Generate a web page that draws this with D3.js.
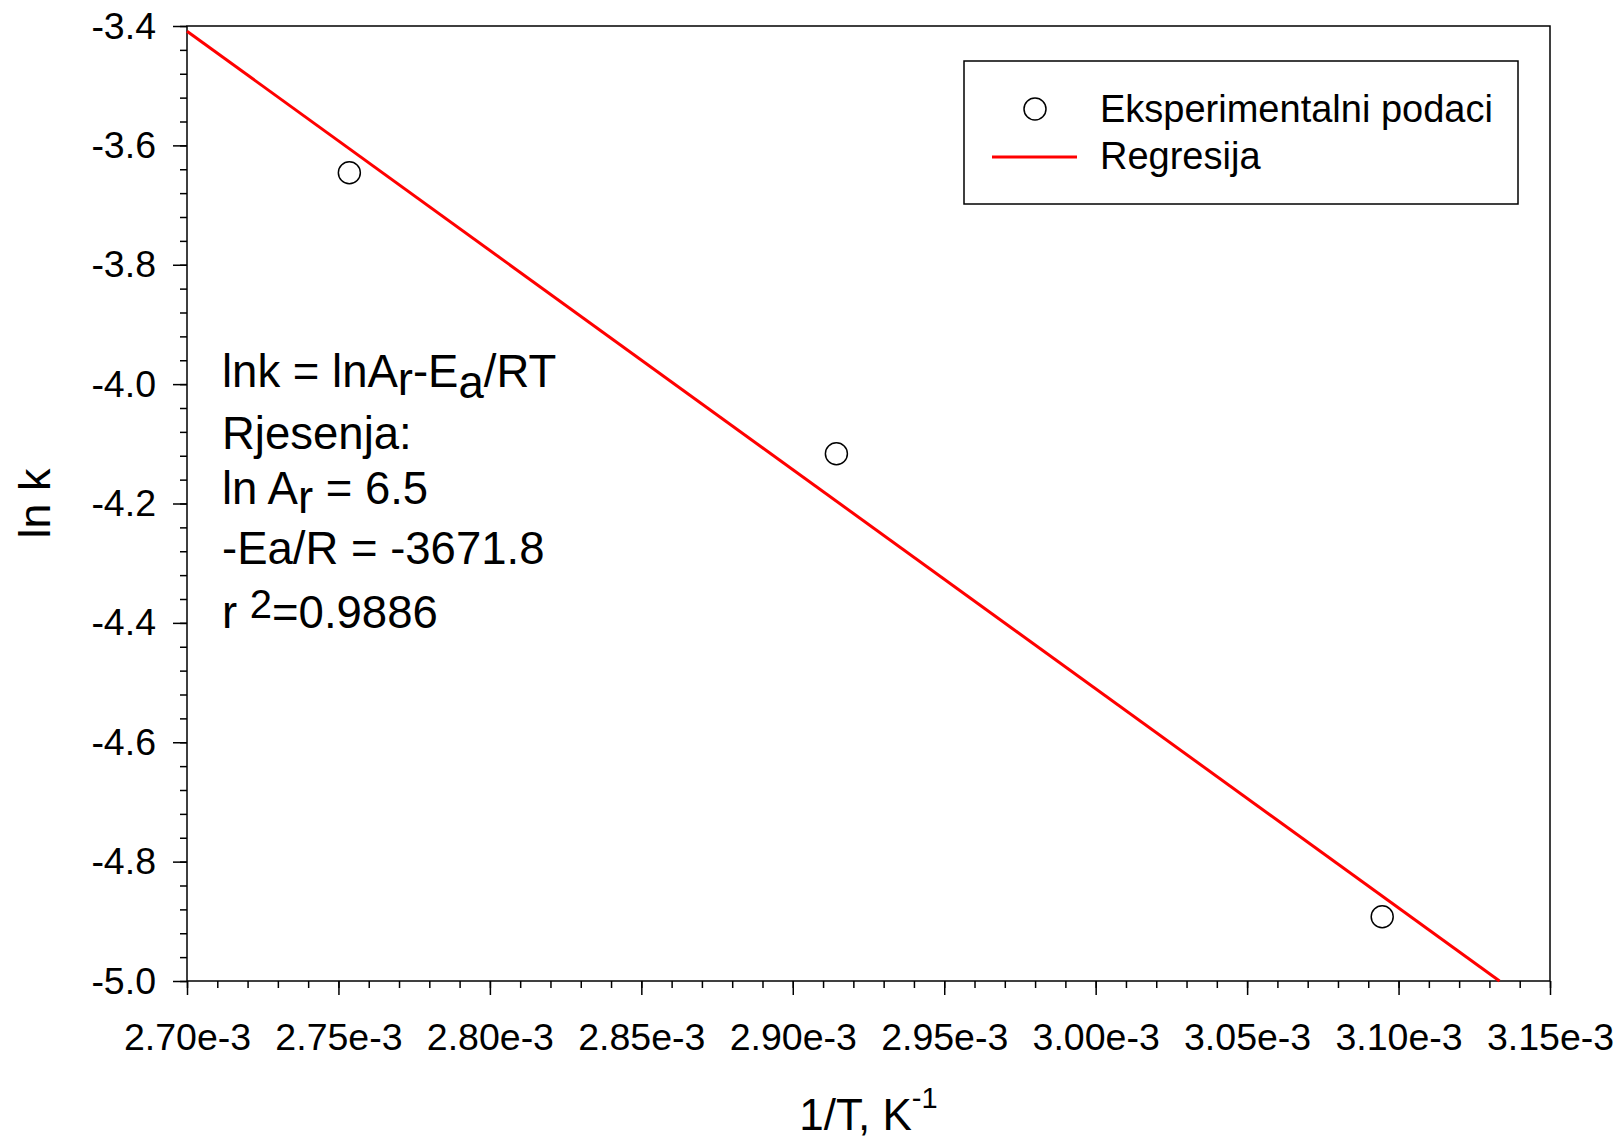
<!DOCTYPE html>
<html>
<head>
<meta charset="utf-8">
<script src="https://cdn.jsdelivr.net/npm/d3@7"></script>
<style>
  body { margin: 0; background: #fff; }
  text { font-family: "Liberation Sans", Arial, sans-serif; fill: #000; }
</style>
</head>
<body>
<div id="chart"></div>
<script>
// data
const invT = [2.7536e-3, 2.9144e-3, 3.0946e-3];   // 1/T, K^-1
const lnK = [-3.6458, -4.1167, -4.8923];
// regression line (ln k = a + b/T), as drawn
const regIntercept = [6.505];
const regSlope = [-3671.8];
// axis ticks
const xMajor = [2.70e-3, 2.75e-3, 2.80e-3, 2.85e-3, 2.90e-3, 2.95e-3, 3.00e-3, 3.05e-3, 3.10e-3, 3.15e-3];
const yMajor = [-3.4, -3.6, -3.8, -4.0, -4.2, -4.4, -4.6, -4.8, -5.0];
const legendLabels = ["Eksperimentalni podaci", "Regresija"];

const W = 1621, H = 1143;
const margin = {top: 26, right: 71, bottom: 162, left: 187};
const width = W - margin.left - margin.right;
const height = H - margin.top - margin.bottom;

const svg = d3.select("#chart").append("svg")
    .attr("width", W)
    .attr("height", H);

const g = svg.append("g")
    .attr("transform", `translate(${margin.left},${margin.top})`);

const x = d3.scaleLinear().domain([2.70e-3, 3.15e-3]).range([0, width]);
const y = d3.scaleLinear().domain([-5.0, -3.4]).range([height, 0]);

// minor ticks
const xMinor = d3.range(46).map(i => 2.70e-3 + i * 0.01e-3);
const yMinor = d3.range(41).map(i => -5.0 + i * 0.04);

g.append("g")
    .attr("transform", `translate(0,${height})`)
    .call(d3.axisBottom(x).tickValues(xMinor).tickSize(7).tickFormat(""))
    .call(a => a.select(".domain").remove())
    .selectAll("line").attr("stroke-width", 1.5);

g.append("g")
    .call(d3.axisLeft(y).tickValues(yMinor).tickSize(7).tickFormat(""))
    .call(a => a.select(".domain").remove())
    .selectAll("line").attr("stroke-width", 1.5);

const xAxis = g.append("g")
    .attr("transform", `translate(0,${height})`)
    .call(d3.axisBottom(x).tickValues(xMajor).tickSize(14).tickPadding(28)
        .tickFormat(d => (d * 1000).toFixed(2) + "e-3"));
xAxis.select(".domain").remove();
xAxis.selectAll("line").attr("stroke-width", 1.5);
xAxis.selectAll("text").attr("font-size", 37.5).attr("font-family", null);

const yAxis = g.append("g")
    .call(d3.axisLeft(y).tickValues(yMajor).tickSize(14).tickPadding(17)
        .tickFormat(d => d.toFixed(1)));
yAxis.select(".domain").remove();
yAxis.selectAll("line").attr("stroke-width", 1.5);
yAxis.selectAll("text").attr("font-size", 37.5).attr("font-family", null);

// frame
g.append("rect")
    .attr("width", width)
    .attr("height", height)
    .attr("fill", "none")
    .attr("stroke", "#000")
    .attr("stroke-width", 1.5);

// regression line, clipped at the axis limits
const regX = [x.domain()[0], (y.domain()[0] - regIntercept[0]) / regSlope[0]];
g.append("path")
    .datum(regX)
    .attr("fill", "none")
    .attr("stroke", "#ff0000")
    .attr("stroke-width", 3)
    .attr("d", d3.line().x(d => x(d)).y(d => y(regIntercept[0] + regSlope[0] * d)));

// data points
g.selectAll("circle.pt")
    .data(invT.map((v, i) => [v, lnK[i]]))
    .enter().append("circle")
    .attr("class", "pt")
    .attr("cx", d => x(d[0]))
    .attr("cy", d => y(d[1]))
    .attr("r", 11)
    .attr("fill", "#fff")
    .attr("stroke", "#000")
    .attr("stroke-width", 1.5);

// legend
const legend = svg.append("g").attr("transform", "translate(964,61)");
legend.append("rect")
    .attr("width", 554).attr("height", 143)
    .attr("fill", "#fff").attr("stroke", "#000").attr("stroke-width", 1.5);
legend.append("circle")
    .attr("cx", 71).attr("cy", 48).attr("r", 11)
    .attr("fill", "#fff").attr("stroke", "#000").attr("stroke-width", 1.5);
legend.append("line")
    .attr("x1", 28).attr("x2", 113).attr("y1", 96).attr("y2", 96)
    .attr("stroke", "#ff0000").attr("stroke-width", 3);
legend.selectAll("text.lab")
    .data(legendLabels)
    .enter().append("text")
    .attr("class", "lab")
    .attr("x", 136)
    .attr("y", (d, i) => 61 + i * 47)
    .attr("font-size", 38)
    .text(d => d);

// annotation
const fs = 45.5;
const l1 = svg.append("text").attr("x", 222).attr("y", 387).attr("font-size", fs);
l1.append("tspan").text("lnk = lnA");
l1.append("tspan").attr("dy", 8).text("r");
l1.append("tspan").attr("dy", -8).text("-E");
l1.append("tspan").attr("dy", 11).text("a");
l1.append("tspan").attr("dy", -11).text("/RT");

svg.append("text").attr("x", 222).attr("y", 449).attr("font-size", fs).text("Rjesenja:");

const l3 = svg.append("text").attr("x", 222).attr("y", 504).attr("font-size", fs);
l3.append("tspan").text("ln A");
l3.append("tspan").attr("dy", 9).text("r");
l3.append("tspan").attr("dy", -9).text(" = 6.5");

svg.append("text").attr("x", 222).attr("y", 564).attr("font-size", fs).text("-Ea/R = -3671.8");

const l5 = svg.append("text").attr("x", 222).attr("y", 628).attr("font-size", fs);
l5.append("tspan").text("r ");
l5.append("tspan").attr("dy", -10).attr("font-size", 40).text("2");
l5.append("tspan").attr("dy", 10).text("=0.9886");

// axis titles
const xt = svg.append("text")
    .attr("x", margin.left + width / 2)
    .attr("y", 1130)
    .attr("text-anchor", "middle")
    .attr("font-size", 44);
xt.append("tspan").text("1/T, K");
xt.append("tspan").attr("dy", -22).attr("font-size", 29).text("-1");

svg.append("text")
    .attr("transform", `translate(50,${margin.top + height / 2}) rotate(-90)`)
    .attr("text-anchor", "middle")
    .attr("font-size", 45)
    .text("ln k");
</script>
</body>
</html>
